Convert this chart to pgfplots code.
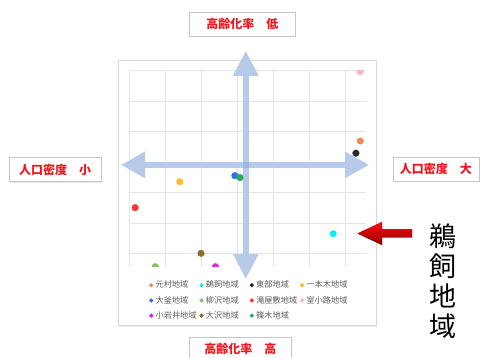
\documentclass[border=0pt]{standalone}
\usepackage{pgfplots}
\pgfplotsset{compat=1.18}
\usepackage{fontspec}
\setmainfont{Noto Sans CJK JP}
\usetikzlibrary{arrows.meta,shadows}

\definecolor{cOrange}{RGB}{240,140,80}
\definecolor{cCyan}{RGB}{20,235,250}
\definecolor{cBlack}{RGB}{40,40,40}
\definecolor{cYellow}{RGB}{252,190,40}
\definecolor{cBlue}{RGB}{50,110,240}
\definecolor{cLGreen}{RGB}{130,190,100}
\definecolor{cRed}{RGB}{255,50,50}
\definecolor{cPink}{RGB}{255,175,210}
\definecolor{cMagenta}{RGB}{220,40,220}
\definecolor{cBrown}{RGB}{140,110,40}
\definecolor{cGreen}{RGB}{40,170,90}
\definecolor{arrowblue}{RGB}{184,202,233}
\definecolor{arrowmid}{RGB}{160,182,224}
\definecolor{labred}{RGB}{245,20,30}
\definecolor{txtgray}{RGB}{95,95,95}

\newcommand{\legtxt}[1]{\makebox[39bp][l]{#1}}

\tikzset{lab/.style={draw=gray!45, fill=white, text=labred,
    font=\bfseries\fontsize{12bp}{14bp}\selectfont, minimum height=24bp, inner sep=0pt,
    drop shadow={shadow xshift=1bp, shadow yshift=-1.2bp, opacity=0.2}}}

\begin{document}
\begin{tikzpicture}
\useasboundingbox (0,0) rectangle (482bp,358bp);
% white panel behind the chart
\draw[gray!30, fill=white, drop shadow={shadow xshift=0.8bp, shadow yshift=-1.6bp, opacity=0.2}]
  (118bp,33bp) rectangle (376bp,298bp);

\begin{axis}[
  at={(129bp,91.3bp)}, anchor=south west,
  scale only axis, width=237bp, height=196bp,
  xmin=0, xmax=6.58, ymin=-0.44, ymax=6,
  xtick={0,...,6}, ytick={0,...,6},
  xticklabels={}, yticklabels={},
  grid=major, major grid style={draw=gray!20, line width=0.6bp},
  axis line style={draw=none}, tick style={draw=none},
  clip mode=individual, clip marker paths=true,
  legend columns=4,
  legend style={at={(0.085,-0.062)}, anchor=north west, draw=none, fill=none, inner sep=0pt,
    font=\fontsize{8.2bp}{10bp}\selectfont, text=txtgray, row sep=2.8bp,
    /tikz/every odd column/.append style={column sep=0.5bp},
    /tikz/every even column/.append style={column sep=3bp}},
  legend image code/.code={\draw[#1, mark size=1.9bp] plot coordinates {(0bp,0bp)};},
  every axis plot/.append style={only marks, mark=*, mark size=3.3bp},
]
% cross arrows
\draw[arrowblue, line width=6bp, {Triangle[length=24bp,width=25bp]}-{Triangle[length=24bp,width=25bp]}]
  (axis cs:-0.222,2.905) -- (axis cs:6.667,2.905);
\draw[arrowblue, line width=6bp, {Triangle[length=25bp,width=24bp]}-{Triangle[length=25bp,width=24bp]}]
  (axis cs:3.242,-0.845) -- (axis cs:3.242,6.655);
\fill[arrowmid] (axis cs:3.242,2.905) ++(-3bp,-3bp) rectangle ++(6bp,6bp);

\addplot[cOrange] coordinates {(6.42,3.69)};
\addplot[cCyan] coordinates {(5.67,0.64)};
\addplot[cBlack] coordinates {(6.30,3.29)};
\addplot[cYellow] coordinates {(1.41,2.35)};
\addplot[cBlue] coordinates {(2.94,2.55)};
\addplot[cLGreen] coordinates {(0.73,-0.44)};
\addplot[cRed] coordinates {(0.17,1.50)};
\addplot[cPink] coordinates {(6.42,5.97)};
\addplot[cMagenta] coordinates {(2.40,-0.44)};
\addplot[cBrown] coordinates {(2.00,0.00)};
\addplot[cGreen] coordinates {(3.08,2.49)};
\legend{\legtxt{元村地域},\legtxt{鵜飼地域},\legtxt{東部地域},\legtxt{一本木地域},
  \legtxt{大釜地域},\legtxt{柳沢地域},\legtxt{滝屋敷地域},\legtxt{室小路地域},
  \legtxt{小岩井地域},\legtxt{大沢地域},\legtxt{篠木地域}}
\end{axis}

% axis captions
\node[lab, minimum width=106bp] at (242.3bp,334.2bp) {高齢化率　低};
\node[lab, minimum width=102bp] at (240.3bp,9bp) {高齢化率　高};
\node[lab, minimum width=92bp] at (55bp,188.3bp) {人口密度　小};
\node[lab, minimum width=86bp] at (435.8bp,188.7bp) {人口密度　大};

% red pointer to the highlighted area
\fill[top color=red!95!white, bottom color=red!55!black]
  (357.5bp,124.5bp) -- (382bp,136bp) -- (382bp,128.5bp) -- (412bp,128.5bp)
  -- (412bp,120.5bp) -- (382bp,120.5bp) -- (382bp,113bp) -- cycle;
\node[anchor=north, align=center, inner sep=0pt, font=\fontsize{27bp}{30bp}\selectfont]
  at (443bp,134bp) {鵜\\飼\\地\\域};
\end{tikzpicture}
\end{document}
